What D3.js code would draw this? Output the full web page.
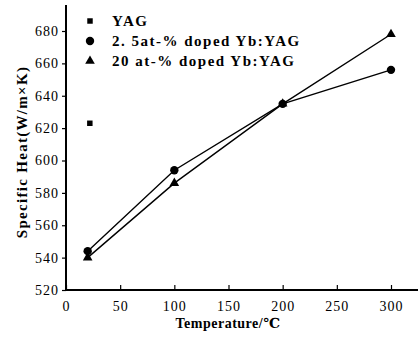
<!DOCTYPE html>
<html lang="en">
<head>
    <meta charset="UTF-8">
    <title>Specific Heat</title>
    <script src="https://d3js.org/d3.v7.min.js"></script>
    <style>
        body { margin: 0; background: white; }
        text {
            font-family: "Liberation Serif", "DejaVu Serif", serif;
            fill: black;
        }
        .tick text { font-size: 14px; letter-spacing: 1px; }
        .domain { stroke: black; stroke-width: 2px; }
        .tick line { stroke: black; stroke-width: 1.2px; }
        .series { fill: none; stroke: black; stroke-width: 1.4px; }
    </style>
</head>
<body>
    <svg id="svg" width="419" height="337"></svg>
    <script>
        // values
        const temps = [20, 100, 200, 300];
        const yagPoint = [{t: 22, v: 623}];
        const dop25 = [544, 594, 635, 656];
        const dop20 = [540, 586, 635, 678];
        const xTicks = [0, 50, 100, 150, 200, 250, 300];
        const yTicks = [520, 540, 560, 580, 600, 620, 640, 660, 680];
        const legendNames = ["YAG", "2. 5at-% doped Yb:YAG", "20 at-% doped Yb:YAG"];

        const svg = d3.select("#svg");

        const x = d3.scaleLinear().domain([0, 300]).range([66, 391]);
        const y = d3.scaleLinear().domain([520, 680]).range([290, 31]);

        // axes
        svg.append("g")
            .attr("transform", "translate(0,290)")
            .call(d3.axisTop(x).tickValues(xTicks).tickSize(5).tickPadding(0))
            .call(g => g.select(".domain").attr("d", "M66,0H418"))
            .call(g => g.selectAll(".tick text").attr("y", 21).attr("dy", 0));

        svg.append("g")
            .attr("transform", "translate(66,0)")
            .call(d3.axisLeft(y).tickValues(yTicks).tickSize(4).tickPadding(3))
            .call(g => g.select(".domain").attr("d", "M0,290V5"));

        // axis titles
        svg.append("text")
            .attr("x", 228).attr("y", 328)
            .attr("text-anchor", "middle")
            .style("font-size", "14px").style("font-weight", "bold")
            .style("letter-spacing", "0.5px")
            .text("Temperature/℃");

        svg.append("text")
            .attr("transform", "translate(27,152) rotate(-90)")
            .attr("text-anchor", "middle")
            .style("font-size", "15px").style("font-weight", "bold")
            .style("letter-spacing", "1.3px")
            .text("Specific Heat(W/m×K)");

        // lines
        const line = d3.line().x(d => x(d.t)).y(d => y(d.v));
        const s25 = temps.map((t, i) => ({t: t, v: dop25[i]}));
        const s20 = temps.map((t, i) => ({t: t, v: dop20[i]}));

        svg.append("path").attr("class", "series").attr("d", line(s25));
        svg.append("path").attr("class", "series").attr("d", line(s20));

        // markers
        const sq = d3.symbol().type(d3.symbolSquare).size(30);
        const ci = d3.symbol().type(d3.symbolCircle).size(55);
        const tr = d3.symbol().type(d3.symbolTriangle).size(40);

        svg.selectAll(".yag").data(yagPoint).enter().append("path")
            .attr("d", sq)
            .attr("transform", d => `translate(${x(d.t)},${y(d.v)})`);
        svg.selectAll(".c25").data(s25).enter().append("path")
            .attr("d", ci)
            .attr("transform", d => `translate(${x(d.t)},${y(d.v)})`);
        svg.selectAll(".t20").data(s20).enter().append("path")
            .attr("d", tr)
            .attr("transform", d => `translate(${x(d.t)},${y(d.v)})`);

        // legend
        const syms = [sq, ci, tr];
        const leg = svg.append("g");
        legendNames.forEach((name, i) => {
            const yy = 21 + i * 20;
            leg.append("path").attr("d", syms[i]).attr("transform", `translate(90,${yy})`);
            leg.append("text")
                .attr("x", 112).attr("y", yy + 5)
                .style("font-size", "15px").style("font-weight", "bold")
                .style("letter-spacing", "1.5px")
                .text(name);
        });
    </script>
</body>
</html>
